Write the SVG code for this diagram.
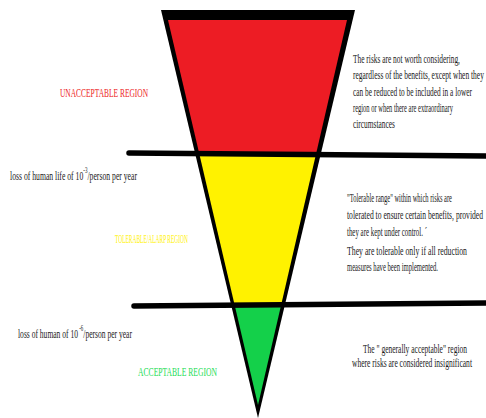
<svg xmlns="http://www.w3.org/2000/svg" width="486" height="418" viewBox="0 0 486 418">
<style>
  text { font-family: "Liberation Serif", "Times New Roman", serif; }
  .body { font-size: 13px; fill: #1a1a1a; }
  .lbl { font-size: 13px; }
  .sup { font-size: 8.5px; }
  .bar { stroke: #000; stroke-width: 5.5; stroke-linecap: round; fill: none; }
</style>
<defs>
  <clipPath id="inner">
    <polygon points="168,20 347,20 258,405"/>
  </clipPath>
</defs>
<rect width="486" height="418" fill="#fff"/>

<g id="funnel">
  <polygon points="161,10 355,10 258,418" fill="#000"/>
  <g clip-path="url(#inner)">
    <rect id="red-band" x="150" y="20" width="220" height="134" fill="#ed1c24"/>
    <rect id="yellow-band" x="150" y="154" width="220" height="152" fill="#fff200"/>
    <rect id="green-band" x="150" y="306" width="220" height="112" fill="#14d04a"/>
  </g>
</g>

<g id="connectors">
  <line class="bar" x1="129" y1="153" x2="490" y2="156"/>
  <line class="bar" x1="134" y1="306" x2="490" y2="303"/>
</g>

<g id="unacceptable">
  <text class="lbl" transform="translate(60,97) scale(0.6,1)" fill="#ed1c24" textLength="146.7" lengthAdjust="spacingAndGlyphs">UNACCEPTABLE REGION</text>
  <text class="body" transform="translate(353,63) scale(0.6,1)" textLength="178.3" lengthAdjust="spacingAndGlyphs">The risks are not worth considering,</text>
  <text class="body" transform="translate(353,79) scale(0.55,1)" textLength="238" lengthAdjust="spacingAndGlyphs">regardless of the benefits, except when they</text>
  <text class="body" transform="translate(353,96) scale(0.6,1)" textLength="198.3" lengthAdjust="spacingAndGlyphs">can be reduced to be included in a lower</text>
  <text class="body" transform="translate(353,112) scale(0.6,1)" textLength="166.7" lengthAdjust="spacingAndGlyphs">region or when there are extraordinary</text>
  <text class="body" transform="translate(353,128) scale(0.6,1)" textLength="70" lengthAdjust="spacingAndGlyphs">circumstances</text>
</g>

<g id="threshold-1">
  <text class="body" transform="translate(10,180) scale(0.6,1)" textLength="211.7" lengthAdjust="spacingAndGlyphs">loss of human life of 10<tspan class="sup" dy="-7">-3</tspan><tspan dy="7">/person per year</tspan></text>
</g>

<g id="tolerable">
  <text class="lbl" transform="translate(115,243) scale(0.6,1)" fill="#fff200" textLength="121.7" lengthAdjust="spacingAndGlyphs">TOLERABLE/ALARP REGION</text>
  <text class="body" transform="translate(347,202) scale(0.6,1)" textLength="175" lengthAdjust="spacingAndGlyphs">"Tolerable range" within which risks are</text>
  <text class="body" transform="translate(347,219) scale(0.6,1)" textLength="226.7" lengthAdjust="spacingAndGlyphs">tolerated to ensure certain benefits, provided</text>
  <text class="body" transform="translate(347,236) scale(0.6,1)" textLength="133.3" lengthAdjust="spacingAndGlyphs">they are kept under control. ´</text>
  <text class="body" transform="translate(347,255) scale(0.6,1)" textLength="200" lengthAdjust="spacingAndGlyphs">They are tolerable only if all reduction</text>
  <text class="body" transform="translate(347,271) scale(0.6,1)" textLength="151.7" lengthAdjust="spacingAndGlyphs">measures have been implemented.</text>
</g>

<g id="threshold-2">
  <text class="body" transform="translate(18,338) scale(0.6,1)" textLength="190" lengthAdjust="spacingAndGlyphs">loss of human of 10<tspan class="sup" dx="2" dy="-7">-6</tspan><tspan dy="7">/person per year</tspan></text>
</g>

<g id="acceptable">
  <text class="lbl" transform="translate(138,376) scale(0.6,1)" fill="#22dd55" textLength="131.7" lengthAdjust="spacingAndGlyphs">ACCEPTABLE REGION</text>
  <text class="body" transform="translate(363,353) scale(0.6,1)" textLength="173.3" lengthAdjust="spacingAndGlyphs">The " generally acceptable" region</text>
  <text class="body" transform="translate(352,367) scale(0.6,1)" textLength="200" lengthAdjust="spacingAndGlyphs">where risks are considered insignificant</text>
</g>
</svg>
